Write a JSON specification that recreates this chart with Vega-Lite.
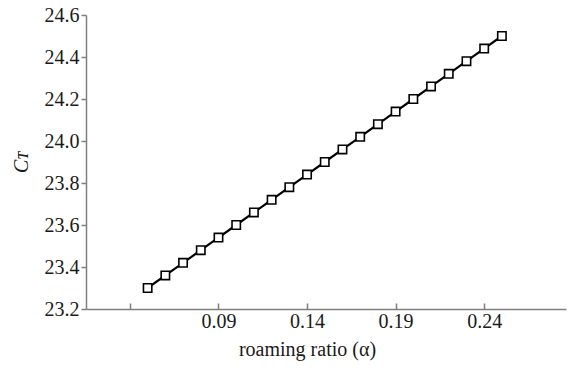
{
  "$schema": "https://vega.github.io/schema/vega-lite/v6.json",
  "width": 480,
  "height": 294,
  "autosize": {"type": "none"},
  "padding": {"left": 86, "top": 15, "right": 3, "bottom": 59},
  "background": "white",
  "config": {
    "view": {"stroke": null},
    "font": "Liberation Serif",
    "axis": {
      "grid": false,
      "domainColor": "#7f7f7f",
      "tickColor": "#7f7f7f",
      "domainWidth": 1.5,
      "tickWidth": 1.5,
      "labelFont": "Liberation Serif",
      "labelFontSize": 20,
      "labelColor": "#1a1a1a",
      "titleFont": "Liberation Serif",
      "titleFontSize": 20,
      "titleFontWeight": "normal",
      "titleColor": "#1a1a1a"
    }
  },
  "data": {
    "values": [
      {"alpha": 0.05, "CT": 23.30},
      {"alpha": 0.06, "CT": 23.36},
      {"alpha": 0.07, "CT": 23.42},
      {"alpha": 0.08, "CT": 23.48},
      {"alpha": 0.09, "CT": 23.54},
      {"alpha": 0.10, "CT": 23.60},
      {"alpha": 0.11, "CT": 23.66},
      {"alpha": 0.12, "CT": 23.72},
      {"alpha": 0.13, "CT": 23.78},
      {"alpha": 0.14, "CT": 23.84},
      {"alpha": 0.15, "CT": 23.90},
      {"alpha": 0.16, "CT": 23.96},
      {"alpha": 0.17, "CT": 24.02},
      {"alpha": 0.18, "CT": 24.08},
      {"alpha": 0.19, "CT": 24.14},
      {"alpha": 0.20, "CT": 24.20},
      {"alpha": 0.21, "CT": 24.26},
      {"alpha": 0.22, "CT": 24.32},
      {"alpha": 0.23, "CT": 24.38},
      {"alpha": 0.24, "CT": 24.44},
      {"alpha": 0.25, "CT": 24.50}
    ]
  },
  "encoding": {
    "x": {
      "field": "alpha",
      "type": "quantitative",
      "scale": {"domain": [0.0152, 0.2862], "nice": false, "zero": false},
      "axis": {
        "title": "roaming ratio (α)",
        "values": [0.04, 0.09, 0.14, 0.19, 0.24],
        "labelExpr": "datum.value < 0.05 ? '' : format(datum.value, '.2f')",
        "tickSize": -6,
        "labelPadding": 8,
        "titlePadding": 8,
        "titleX": 221
      }
    },
    "y": {
      "field": "CT",
      "type": "quantitative",
      "scale": {"domain": [23.2, 24.6], "nice": false, "zero": false},
      "axis": {
        "title": "Cᴛ",
        "titleFontStyle": "italic",
        "values": [23.2, 23.4, 23.6, 23.8, 24.0, 24.2, 24.4, 24.6],
        "format": ".1f",
        "tickSize": 5,
        "labelPadding": 2,
        "titlePadding": 13
      }
    }
  },
  "layer": [
    {"mark": {"type": "line", "color": "#000000", "strokeWidth": 2.2}},
    {"mark": {"type": "point", "shape": "square", "filled": true, "fill": "white", "stroke": "#000000", "strokeWidth": 1.6, "size": 70, "opacity": 1}}
  ]
}
